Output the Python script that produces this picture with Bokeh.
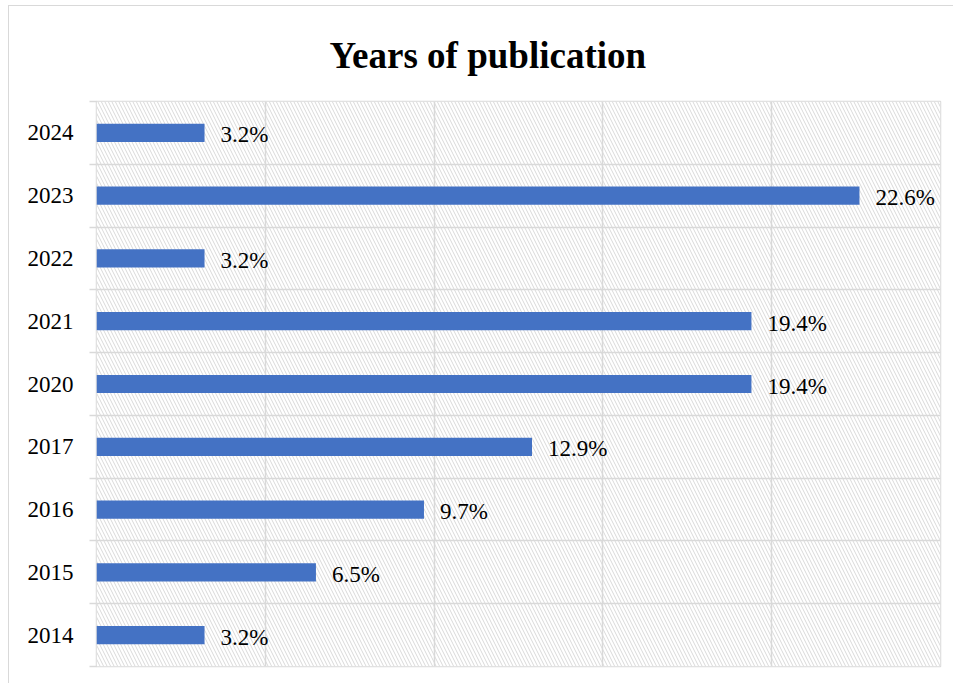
from bokeh.plotting import figure
from bokeh.models import FixedTicker, Range1d, ColumnDataSource, Title
from bokeh.core.properties import value
from bokeh.embed import file_html
from bokeh.resources import INLINE

years = ["2014", "2015", "2016", "2017", "2020", "2021", "2022", "2023", "2024"]
percents = [3.2, 6.5, 9.7, 12.9, 19.4, 19.4, 3.2, 22.6, 3.2]
x_ticks = [0, 5, 10, 15, 20, 25]
title_text = "Years of publication"

pos = list(range(len(years)))
labels = [f"{v:.1f}%" for v in percents]
src = ColumnDataSource(dict(y=pos, v=percents, lab=labels))

SERIF = "Liberation Serif"

p = figure(width=945, height=678, output_backend="svg", toolbar_location=None,
           x_range=Range1d(0, x_ticks[-1]), y_range=Range1d(-0.5, len(years) - 0.5),
           min_border_left=87, min_border_right=14, min_border_top=95, min_border_bottom=18)
p.styles = {"border-top": "1px solid #d9d9d9", "border-left": "1px solid #d9d9d9",
            "margin-left": "8px", "margin-top": "5px"}

t = Title(text=title_text, align="left", text_font=SERIF, text_font_size="37px",
          text_font_style="bold", text_color="#000000", standoff=52, offset=233)
p.add_layout(t, "above")

# hatched plot background
p.quad(left=[x_ticks[0]], right=[x_ticks[-1]], bottom=[-0.5], top=[len(years) - 0.5],
       fill_color="white", line_color=None, hatch_pattern="left_diagonal_line",
       hatch_color="#d9d9d9", hatch_scale=7, hatch_weight=1, level="image")

p.hbar(y="y", right="v", left=0, height=0.29, source=src, fill_color="#4472C4", line_color=None)
p.text(x="v", y="y", text="lab", source=src, x_offset=16, y_offset=2,
       text_font=value(SERIF), text_font_size="23px", text_baseline="middle",
       text_align="left", text_color="#000000")

p.xaxis.visible = False
p.xgrid.ticker = FixedTicker(ticks=x_ticks)
p.xgrid.grid_line_color = "#d9d9d9"
p.xgrid.grid_line_width = 1.5

bounds = [i - 0.5 for i in range(len(years) + 1)]
p.yaxis.ticker = FixedTicker(ticks=pos, minor_ticks=bounds)
p.yaxis.major_label_overrides = {i: y for i, y in enumerate(years)}
p.yaxis.major_label_text_font = SERIF
p.yaxis.major_label_text_font_size = "23px"
p.yaxis.major_label_text_color = "#000000"
p.yaxis.major_tick_line_color = None
p.yaxis.major_tick_out = 0
p.yaxis.major_tick_in = 0
p.yaxis.minor_tick_line_color = "#d9d9d9"
p.yaxis.minor_tick_line_width = 1.5
p.yaxis.minor_tick_out = 7
p.yaxis.minor_tick_in = 0
p.yaxis.axis_line_color = None
p.yaxis.major_label_standoff = 16
p.ygrid.ticker = FixedTicker(ticks=bounds)
p.ygrid.grid_line_color = "#d9d9d9"
p.ygrid.grid_line_width = 1.5

p.outline_line_color = "#d9d9d9"
p.outline_line_width = 1.5

open("out.html", "w").write(file_html(p, INLINE))
